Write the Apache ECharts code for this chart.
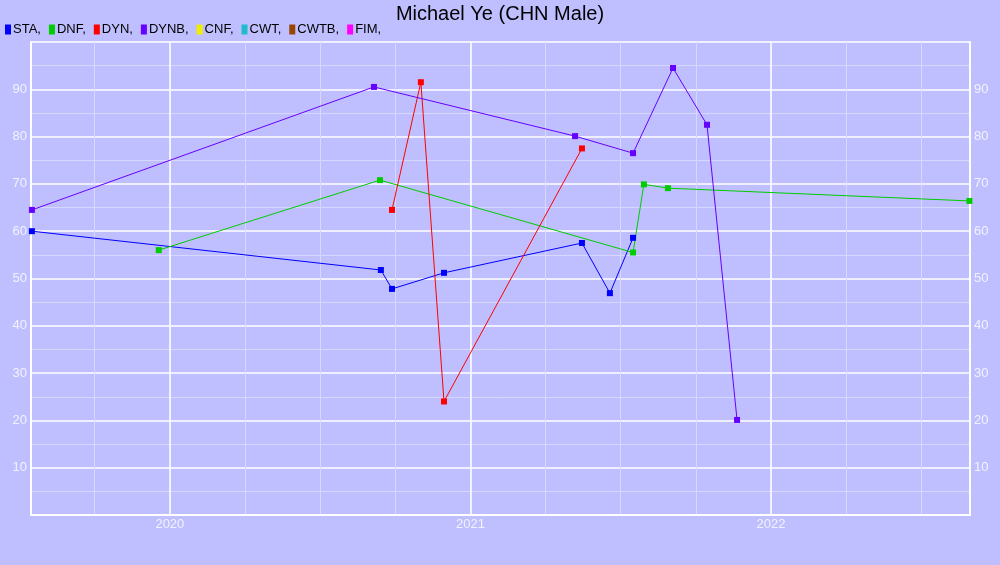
<!DOCTYPE html>
<html><head><meta charset="utf-8">
<script src="https://cdn.jsdelivr.net/npm/echarts@6/dist/echarts.min.js"></script>
<style>html,body{margin:0;padding:0;background:#bfbfff}#c{width:1000px;height:565px}</style>
</head><body><div id="c"></div>
<script>
// decimal years
var staX = [2019.541, 2020.702, 2020.739, 2020.912, 2021.371, 2021.464, 2021.541];
var staY = [60.0, 51.8, 47.8, 51.2, 57.5, 46.9, 58.6];
var dnfX = [2019.963, 2020.699, 2021.541, 2021.577, 2021.657, 2022.660];
var dnfY = [56.0, 70.8, 55.5, 69.9, 69.1, 66.4];
var dynX = [2020.739, 2020.835, 2020.912, 2021.371];
var dynY = [64.5, 91.5, 24.0, 77.5];
var dynbX = [2019.541, 2020.679, 2021.348, 2021.541, 2021.674, 2021.787, 2021.887];
var dynbY = [64.5, 90.5, 80.1, 76.5, 94.5, 82.5, 20.1];
var disciplines = ['STA', 'DNF', 'DYN', 'DYNB', 'CNF', 'CWT', 'CWTB', 'FIM'];
var colors = ['#0000ff', '#00cc00', '#ff0000', '#6600ff', '#eeee00', '#22bbcc', '#994400', '#ff00ff'];
var yearTicks = [2020, 2021, 2022];
var quarterTicks = [2019.75, 2020, 2020.25, 2020.5, 2020.75, 2021, 2021.25, 2021.5, 2021.75, 2022, 2022.25, 2022.5];
var xMin = 2019.538, xMax = 2022.662;

function pts(xs, ys) { return xs.map(function (x, i) { return [x, ys[i]]; }); }
var dataMap = { STA: pts(staX, staY), DNF: pts(dnfX, dnfY), DYN: pts(dynX, dynY), DYNB: pts(dynbX, dynbY) };

var labelColor = '#f2f2ff';
var font = 'Liberation Sans, Arial, sans-serif';
var chart = echarts.init(document.getElementById('c'));
chart.setOption({
  backgroundColor: '#bfbfff',
  animation: false,
  title: { text: 'Michael Ye (CHN Male)', left: 'center', top: -1,
    textStyle: { color: '#000', fontSize: 20, fontWeight: 'normal', fontFamily: font } },
  legend: { left: 0, top: 18, icon: 'rect', itemWidth: 6, itemHeight: 10, itemGap: 8,
    data: disciplines, formatter: function (n) { return n + ','; },
    textStyle: { color: '#000', fontSize: 13, fontFamily: font, padding: [0, 0, 0, -3] } },
  grid: { left: 31, right: 30, top: 42, bottom: 50, containLabel: false },
  xAxis: [
    { type: 'value', min: xMin, max: xMax,
      axisLine: { show: true, onZero: false, lineStyle: { color: '#fff', width: 2 } },
      axisTick: { show: false, customValues: quarterTicks },
      axisLabel: { show: false },
      splitLine: { show: true, lineStyle: { color: '#d8d8ff', width: 1 } } },
    { type: 'value', min: xMin, max: xMax, position: 'bottom',
      axisLine: { show: false },
      axisTick: { show: false, customValues: yearTicks },
      axisLabel: { show: true, customValues: yearTicks, color: labelColor, fontSize: 13, fontFamily: font, margin: 3,
        formatter: function (v) { return String(Math.round(v)); } },
      splitLine: { show: true, lineStyle: { color: '#ffffff', width: 1.5 } } }
  ],
  yAxis: [
    { type: 'value', min: 0, max: 100, interval: 10, position: 'left',
      axisLine: { show: true, lineStyle: { color: '#fff', width: 2 } },
      axisTick: { show: false },
      axisLabel: { color: labelColor, fontSize: 13, fontFamily: font, margin: 4,
        formatter: function (v) { return (v === 0 || v === 100) ? '' : String(v); } },
      splitLine: { show: true, lineStyle: { color: '#ffffff', width: 1.5 } },
      minorTick: { show: false, splitNumber: 2 },
      minorSplitLine: { show: true, lineStyle: { color: '#d8d8ff', width: 1 } } },
    { type: 'value', min: 0, max: 100, interval: 10, position: 'right',
      axisLine: { show: true, lineStyle: { color: '#fff', width: 2 } },
      axisTick: { show: false },
      axisLabel: { color: labelColor, fontSize: 13, fontFamily: font, margin: 4,
        formatter: function (v) { return (v === 0 || v === 100) ? '' : String(v); } },
      splitLine: { show: false } }
  ],
  series: disciplines.map(function (d, i) {
    return { name: d, type: 'line', data: dataMap[d] || [], xAxisIndex: 0, yAxisIndex: 0,
      symbol: 'rect', symbolSize: 6, showSymbol: true,
      itemStyle: { color: colors[i] }, lineStyle: { color: colors[i], width: 1 } };
  })
});
</script></body></html>
